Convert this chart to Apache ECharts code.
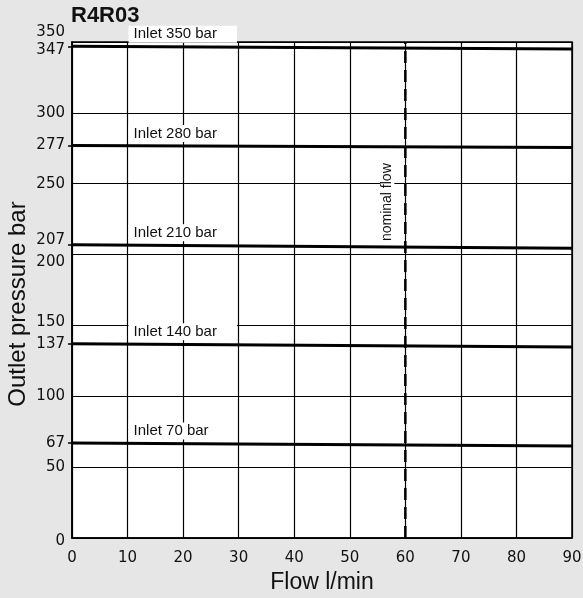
<!DOCTYPE html>
<html>
<head>
<meta charset="utf-8">
<script src="https://cdn.jsdelivr.net/npm/echarts@6/dist/echarts.min.js"></script>
<style>
  html, body { margin: 0; padding: 0; background: #e6e6e6; }
  #chart { width: 583px; height: 598px; }
</style>
</head>
<body>
<div id="chart"></div>
<script>
// Outlet pressure vs. flow for the R4R03 pressure reducer
const flowRange = [0, 90];                 // l/min, start and end of each curve
const inletNames = ['Inlet 350 bar', 'Inlet 280 bar', 'Inlet 210 bar', 'Inlet 140 bar', 'Inlet 70 bar'];
const outletAtZero = [347, 277, 207, 137, 67];      // bar at 0 l/min
const outletAtMax = [345, 275.5, 204.5, 134.7, 65]; // bar at 90 l/min
const nominalFlow = 60;                    // l/min
const nominalLabel = 'nominal flow';
const yTickLabels = [0, 50, 67, 100, 137, 150, 200, 207, 250, 277, 300, 347, 350];
const yMarkedTicks = [67, 137, 207, 277, 347];
const xTickStep = 10;
const yGridStep = 50;

const tickFont = 'DejaVu Sans';
const nameFont = 'Liberation Sans';

// vertical nudges for crowded y labels (px, + is down)
const yLabelShift = { 350: -10, 347: 4, 207: -5, 200: 8, 150: -3, 0: 3 };
const yRich = {};
Object.keys(yLabelShift).forEach(k => {
  const s = yLabelShift[k];
  yRich['v' + k] = {
    fontFamily: tickFont, fontSize: 15, color: '#111',
    padding: s < 0 ? [0, 0, -2 * s, 0] : [2 * s, 0, 0, 0]
  };
});

const chart = echarts.init(document.getElementById('chart'), null, { renderer: 'canvas' });

const inletSeries = inletNames.map((name, i) => ({
  name: name,
  type: 'line',
  yAxisIndex: 0,
  symbol: 'none',
  silent: true,
  lineStyle: { color: '#000', width: 3 },
  data: [[flowRange[0], outletAtZero[i]], [flowRange[1], outletAtMax[i]]],
  markPoint: {
    symbol: 'rect',
    symbolSize: 0,
    silent: true,
    data: [{
      coord: [xTickStep, outletAtZero[i]],
      label: {
        show: true,
        formatter: name,
        position: 'right',
        distance: 1,
        offset: [0, -12],
        fontFamily: nameFont,
        fontSize: 15,
        color: '#111',
        backgroundColor: '#fff',
        padding: [1, 20, 1, 5]
      }
    }]
  }
}));

const option = {
  backgroundColor: '#e6e6e6',
  animation: false,
  title: {
    text: 'R4R03',
    left: 66,
    top: 0,
    textStyle: { fontFamily: nameFont, fontSize: 22, fontWeight: 'bold', color: '#111' }
  },
  grid: {
    left: 72, right: 11, top: 42, bottom: 60,
    outerBoundsMode: 'none',
    containLabel: false,
    show: true,
    backgroundColor: '#fff',
    borderColor: '#000',
    borderWidth: 1.5
  },
  xAxis: {
    type: 'value',
    min: flowRange[0],
    max: flowRange[1],
    interval: xTickStep,
    name: 'Flow l/min',
    nameLocation: 'middle',
    nameGap: 33,
    nameMoveOverlap: false,
    nameTextStyle: { fontFamily: nameFont, fontSize: 23, color: '#111' },
    axisLine: { show: true, lineStyle: { color: '#000', width: 1.5 } },
    axisTick: { show: false },
    axisLabel: { fontFamily: tickFont, fontSize: 15, color: '#111', margin: 13 },
    splitLine: { show: true, lineStyle: { color: '#000', width: 1.2 } }
  },
  yAxis: [
    {
      type: 'value',
      min: 0,
      max: 350,
      interval: yGridStep,
      position: 'left',
      axisLine: { show: true, lineStyle: { color: '#000', width: 1.5 } },
      axisTick: { show: false },
      axisLabel: { show: false },
      splitLine: { show: true, lineStyle: { color: '#000', width: 1.2 } }
    },
    {
      type: 'value',
      min: 0,
      max: 350,
      position: 'left',
      offset: 0,
      name: 'Outlet pressure bar',
      nameLocation: 'middle',
      nameGap: 42,
      nameMoveOverlap: false,
      nameTextStyle: { fontFamily: nameFont, fontSize: 24, color: '#111', padding: [0, 28, 0, 0] },
      axisLine: { show: false },
      axisTick: {
        show: true, length: 4, inside: false,
        customValues: yMarkedTicks,
        lineStyle: { color: '#000', width: 1.5 }
      },
      axisLabel: {
        customValues: yTickLabels,
        margin: 7,
        fontFamily: tickFont, fontSize: 15, color: '#111',
        formatter: v => (yLabelShift[v] !== undefined ? '{v' + v + '|' + v + '}' : String(v)),
        rich: yRich
      },
      splitLine: { show: false }
    }
  ],
  series: inletSeries.concat([{
    name: nominalLabel,
    type: 'line',
    yAxisIndex: 0,
    symbol: 'none',
    silent: true,
    lineStyle: { color: '#000', width: 2.5, type: [12, 7] },
    data: [[nominalFlow, 0], [nominalFlow, 350]],
    markPoint: {
      symbol: 'rect',
      symbolSize: 0,
      silent: true,
      data: [{
        coord: [nominalFlow, 237],
        label: {
          show: true,
          formatter: nominalLabel,
          rotate: 90,
          position: 'inside',
          offset: [0, -18],
          fontFamily: nameFont,
          fontSize: 14,
          color: '#111',
          backgroundColor: '#fff',
          padding: [0, 3]
        }
      }]
    }
  }])
};

chart.setOption(option);
</script>
</body>
</html>
